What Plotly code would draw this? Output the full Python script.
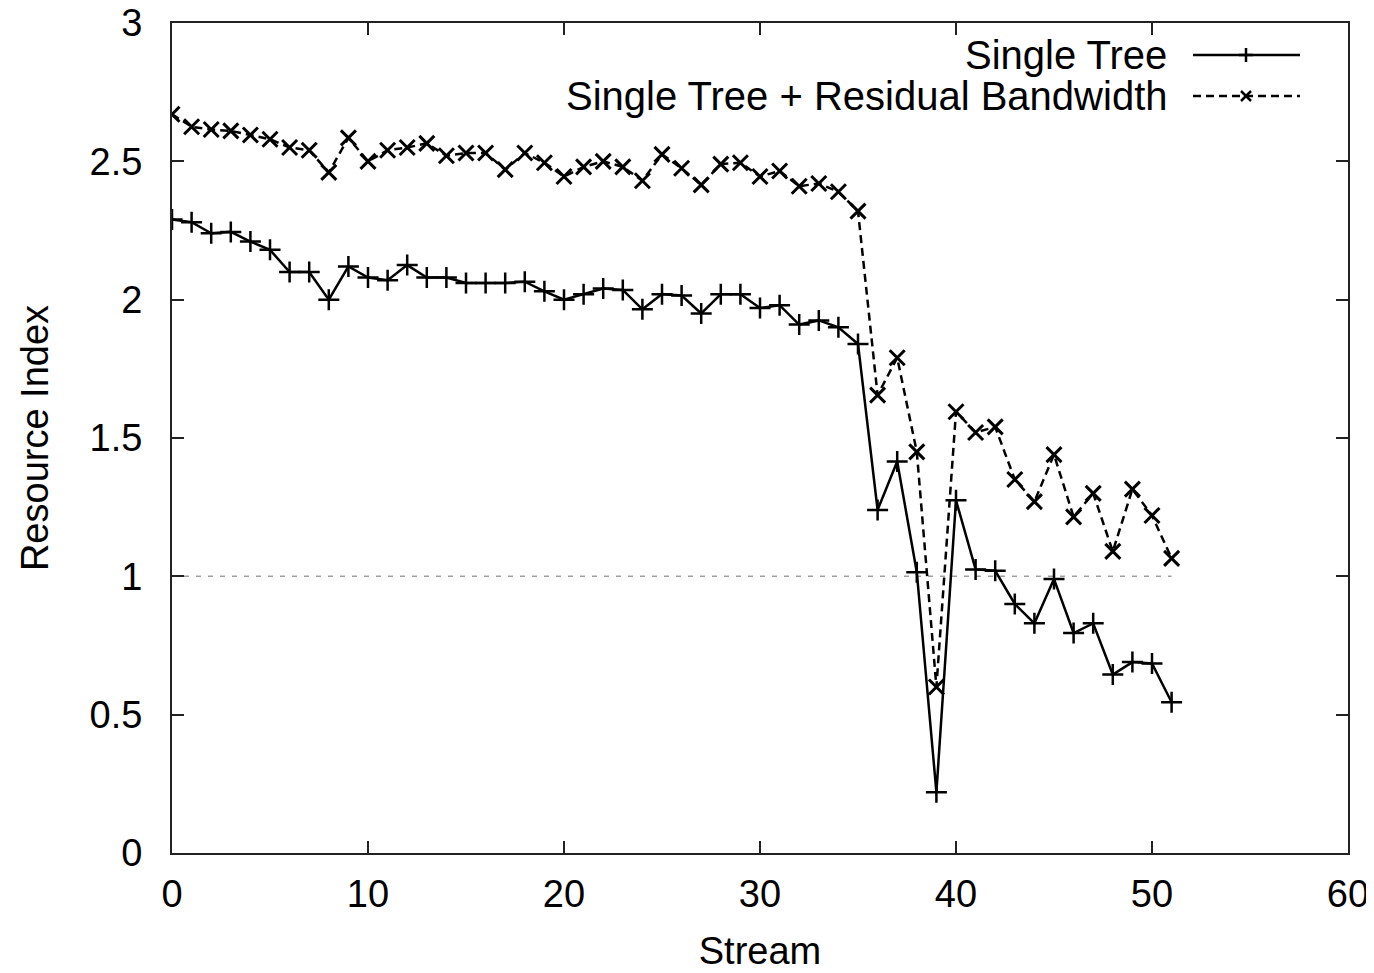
import plotly.graph_objects as go

streams = list(range(52))

single_tree = [
    2.29, 2.28, 2.24, 2.245, 2.21, 2.18, 2.10, 2.10, 2.00, 2.12,
    2.08, 2.07, 2.125, 2.08, 2.08, 2.06, 2.06, 2.06, 2.065, 2.03,
    2.00, 2.02, 2.04, 2.035, 1.965, 2.02, 2.015, 1.95, 2.02, 2.02,
    1.97, 1.98, 1.91, 1.925, 1.90, 1.84, 1.24, 1.415, 1.015, 0.22,
    1.275, 1.025, 1.02, 0.90, 0.83, 0.99, 0.795, 0.83, 0.645, 0.69,
    0.685, 0.545,
]

residual_bw = [
    2.67, 2.625, 2.615, 2.61, 2.595, 2.58, 2.55, 2.54, 2.46, 2.585,
    2.50, 2.54, 2.55, 2.565, 2.52, 2.53, 2.53, 2.47, 2.53, 2.495,
    2.445, 2.48, 2.50, 2.48, 2.43, 2.525, 2.475, 2.415, 2.49, 2.495,
    2.445, 2.465, 2.41, 2.42, 2.39, 2.32, 1.655, 1.79, 1.45, 0.60,
    1.595, 1.52, 1.54, 1.35, 1.27, 1.44, 1.215, 1.30, 1.09, 1.315,
    1.22, 1.065,
]

threshold = 1.0
series_names = ["Single Tree", "Single Tree + Residual Bandwidth"]
x_ticks = [0, 10, 20, 30, 40, 50, 60]
y_ticks = [0, 0.5, 1, 1.5, 2, 2.5, 3]
y_tick_text = ["0", "0.5", "1", "1.5", "2", "2.5", "3"]

FONT = "Liberation Sans, Arial, sans-serif"
FS = 38
LEG_FS = 40

# page offset (browser default body margin)
OFF = 8
FIG_W, FIG_H = 1374 - OFF, 973 - OFF

fig = go.Figure()

# threshold reference line
fig.add_trace(go.Scatter(
    x=[streams[0], streams[-1]], y=[threshold, threshold], mode="lines",
    line=dict(color="#a0a0a0", width=1.5, dash="5px,7px"),
    showlegend=False, hoverinfo="skip",
))

fig.add_trace(go.Scatter(
    x=streams, y=single_tree, mode="lines+markers", name=series_names[0],
    line=dict(color="black", width=2.5),
    marker=dict(symbol="cross-thin", size=15, color="black",
                line=dict(width=2.5, color="black")),
    showlegend=False,
))

fig.add_trace(go.Scatter(
    x=streams, y=residual_bw, mode="lines+markers", name=series_names[1],
    line=dict(color="black", width=2.5, dash="8px,5px"),
    marker=dict(symbol="x-thin", size=15, color="black",
                line=dict(width=3, color="black")),
    showlegend=False,
))

# ---- manual gnuplot-style legend (layout only) ----
# target positions in screenshot pixels
L, R, T, B = 172, 1348, 23, 853
W, H = R - L, B - T
def px(x):
    return (x - L) / W
def py(y):
    return (B - y) / H

rows = [(55, "solid", "plus"), (96, "dash", "x")]
shapes = []
annotations = []
for (yy, dash, mk), name in zip(rows, series_names):
    annotations.append(dict(
        x=px(1169), y=py(yy), xref="paper", yref="paper",
        xanchor="right", yanchor="middle", text=name, showarrow=False,
        font=dict(family=FONT, size=LEG_FS, color="black"),
    ))
    shapes.append(dict(
        type="line", xref="paper", yref="paper",
        x0=px(1193), x1=px(1300), y0=py(yy), y1=py(yy),
        line=dict(color="black", width=2.5,
                  dash="solid" if dash == "solid" else "8px,5px"),
    ))
    cx = 1246
    if mk == "plus":
        shapes.append(dict(type="line", xref="paper", yref="paper",
                           x0=px(cx - 7), x1=px(cx + 7), y0=py(yy), y1=py(yy),
                           line=dict(color="black", width=2.5)))
        shapes.append(dict(type="line", xref="paper", yref="paper",
                           x0=px(cx), x1=px(cx), y0=py(yy - 7), y1=py(yy + 7),
                           line=dict(color="black", width=2.5)))
    else:
        shapes.append(dict(type="line", xref="paper", yref="paper",
                           x0=px(cx - 5), x1=px(cx + 5), y0=py(yy - 5), y1=py(yy + 5),
                           line=dict(color="black", width=2.5)))
        shapes.append(dict(type="line", xref="paper", yref="paper",
                           x0=px(cx - 5), x1=px(cx + 5), y0=py(yy + 5), y1=py(yy - 5),
                           line=dict(color="black", width=2.5)))

fig.update_layout(
    width=FIG_W, height=FIG_H,
    margin=dict(l=L - OFF, r=FIG_W - (R - OFF), t=T - OFF, b=FIG_H - (B - OFF),
                autoexpand=False),
    paper_bgcolor="white", plot_bgcolor="white",
    font=dict(family=FONT, size=FS, color="black"),
    shapes=shapes, annotations=annotations,
    showlegend=False,
)

fig.update_xaxes(
    range=[0, 60], tickvals=x_ticks, ticks="inside", ticklen=12, tickwidth=1.5,
    tickcolor="#222", showline=True, linecolor="#222", linewidth=2,
    mirror="ticks", showgrid=False, zeroline=False, automargin=False,
    tickfont=dict(family=FONT, size=FS), ticklabelstandoff=6,
    ticklabeloverflow="allow",
    title=dict(text="Stream", font=dict(family=FONT, size=FS), standoff=24),
)
fig.update_yaxes(
    range=[0, 3], tickvals=y_ticks, ticktext=y_tick_text, ticks="inside",
    ticklen=12, tickwidth=1.5, tickcolor="#222", showline=True,
    linecolor="#222", linewidth=2, mirror="ticks", showgrid=False,
    zeroline=False, automargin=False, tickfont=dict(family=FONT, size=FS),
    ticklabelstandoff=20, ticklabeloverflow="allow",
    title=dict(text="Resource Index", font=dict(family=FONT, size=FS), standoff=29),
)

fig.write_html("out.html")
